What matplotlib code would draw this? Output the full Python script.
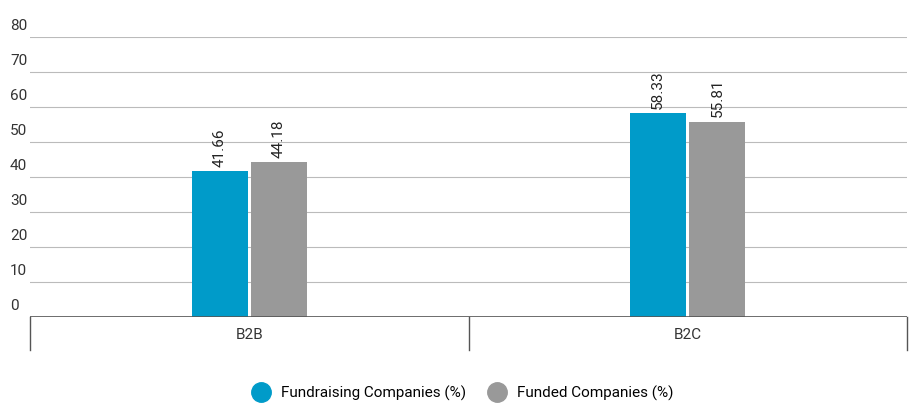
import matplotlib
matplotlib.use("Agg")
import matplotlib.pyplot as plt
import numpy as np
from matplotlib.lines import Line2D

categories = ["B2B", "B2C"]
series_names = ["Fundraising Companies (%)", "Funded Companies (%)"]
fundraising = [41.66, 58.33]
funded = [44.18, 55.81]
yticks = [0, 10, 20, 30, 40, 50, 60, 70, 80]
colors = ["#009bc9", "#999999"]

plt.rcParams["font.family"] = "Roboto"
fig = plt.figure(figsize=(9.19, 4.19), dpi=100)
ax = fig.add_axes([30/919, 102/419, 877/919, 280/419])
x = np.arange(len(categories))
w = 0.128
gap = 0.0035
for i, (vals, c) in enumerate(zip([fundraising, funded], colors)):
    xs = x + (i - 0.5) * (w + gap*2)
    bars = ax.bar(xs, vals, width=w, color=c, zorder=3)
    for xb, v in zip(xs, vals):
        ax.annotate(f"{v:.2f}", (xb, v), xytext=(0, 3), textcoords="offset points",
                    rotation=90, ha="center", va="bottom", fontsize=11, color="#222222")
ax.set_xlim(-0.5, 1.5)
ax.set_ylim(0, 80)
for t in yticks:
    ax.axhline(t, color="#bbbbbb", lw=0.8, zorder=1)
    ax.annotate(str(t), (-0.5, t), xytext=(-20, 4), textcoords="offset pixels",
                annotation_clip=False, ha="left", va="bottom", fontsize=11, color="#333333")
ax.axhline(0, color="#555555", lw=1.2, zorder=4)
for sp in ax.spines.values():
    sp.set_visible(False)
ax.set_yticks([])
ax.set_xticks(x)
ax.set_xticklabels(categories, fontsize=11, color="#333333")
ax.tick_params(axis="x", length=0, pad=8)
for xv in [-0.5, 0.5, 1.5]:
    ax.plot([xv, xv], [0, -0.118], transform=ax.get_xaxis_transform(), color="#555555",
            lw=1, clip_on=False)
handles = [Line2D([], [], marker="o", ls="", markersize=14, color=c) for c in colors]
fig.legend(handles, series_names, loc="center", bbox_to_anchor=(0.5, 26/419 + 0.0), ncol=2,
           frameon=False, fontsize=11, handletextpad=0.3, columnspacing=1.0)
fig.savefig("out.png", dpi=100)
